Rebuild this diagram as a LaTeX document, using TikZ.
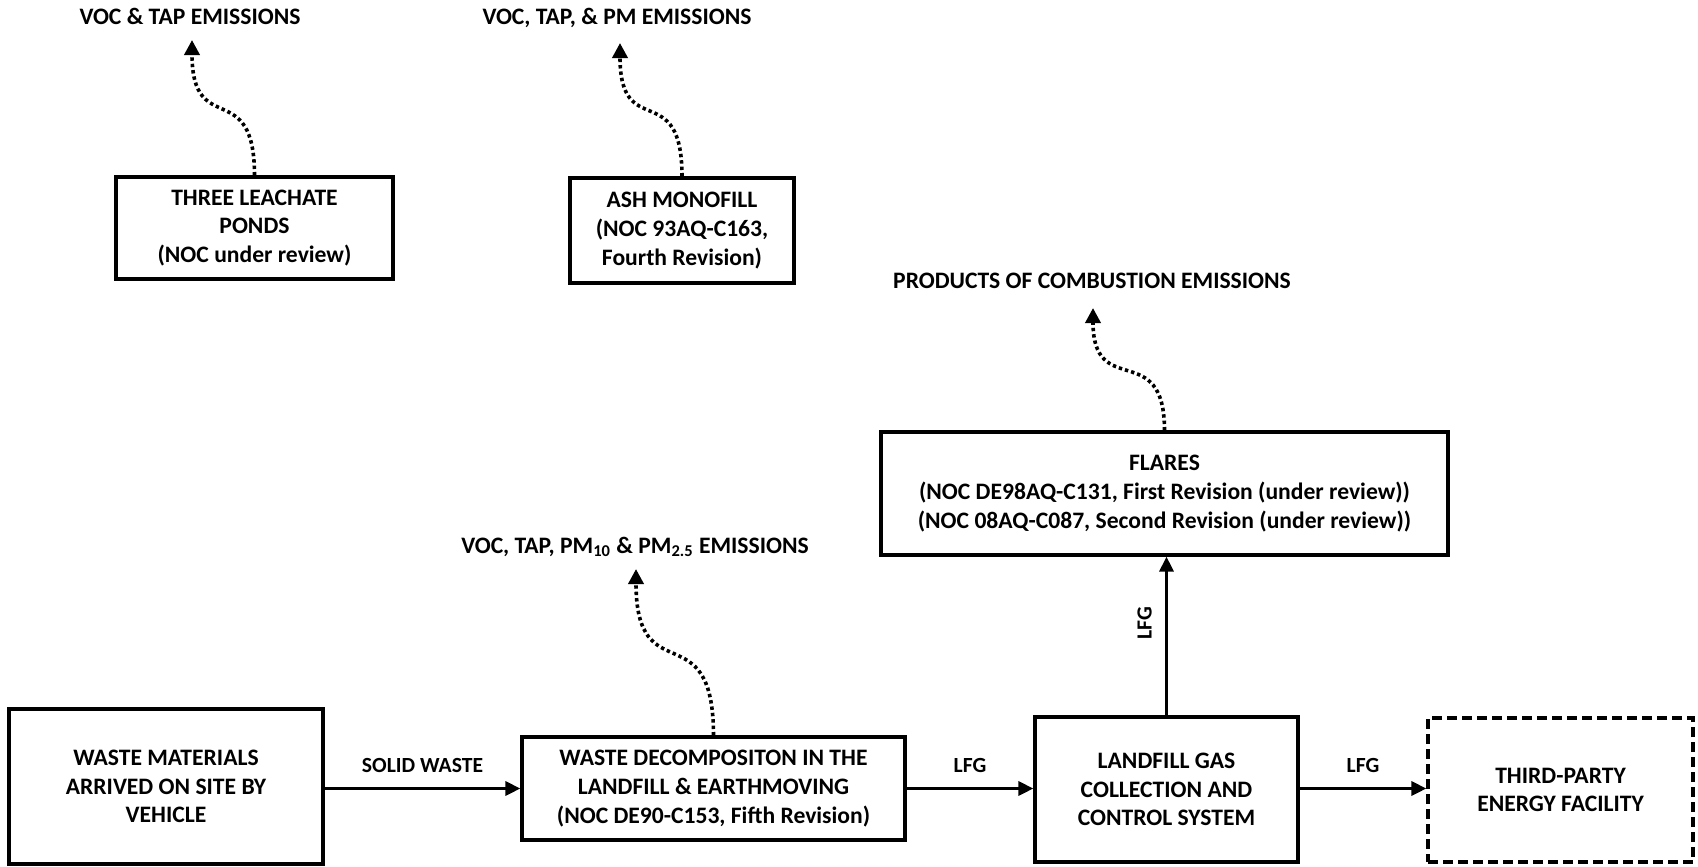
\documentclass[tikz,border=0pt]{standalone}
\usepackage{fontspec}
\setmainfont{Carlito}
\usetikzlibrary{arrows.meta}
\newcommand{\boxfont}{\fontsize{11.8pt}{14.3pt}\selectfont\bfseries}
\newcommand{\lblfont}{\fontsize{10.8pt}{13pt}\selectfont\bfseries}
\begin{document}
\begin{tikzpicture}[x=0.5pt,y=-0.5pt,
  box/.style={draw,line width=1.6pt,align=center,font=\boxfont,inner sep=0pt},
  dbox/.style={box,dash pattern=on 5pt off 2.5pt},
  title/.style={font=\boxfont,inner sep=0pt},
  lbl/.style={font=\lblfont,inner sep=0pt},
  arr/.style={line width=1.6pt,-{Triangle[length=7.5pt,width=7pt]}},
  dotarr/.style={line width=1.8pt,dash pattern=on 1.7pt off 1.5pt,-{Triangle[length=7.5pt,width=7.5pt]}}]
\useasboundingbox (0,0) rectangle (1698,867);

% boxes
\node[box,minimum width=138.5pt,minimum height=51pt] (leach) at (254.5,228) {THREE LEACHATE\\PONDS\\(NOC under review)};
\node[box,minimum width=112pt,minimum height=52.5pt] (ash) at (682,230.5) {ASH MONOFILL\\(NOC 93AQ-C163,\\Fourth Revision)};
\node[box,minimum width=283.5pt,minimum height=61.5pt] (flares) at (1164.5,493.5) {FLARES\\(NOC DE98AQ-C131, First Revision (under review))\\(NOC 08AQ-C087, Second Revision (under review))};
\node[box,minimum width=157pt,minimum height=77.5pt] (waste) at (166,786.5) {WASTE MATERIALS\\ARRIVED ON SITE BY\\VEHICLE};
\node[box,minimum width=191.5pt,minimum height=51.5pt] (decomp) at (713.5,788.5) {WASTE DECOMPOSITON IN THE\\LANDFILL \& EARTHMOVING\\(NOC DE90-C153, Fifth Revision)};
\node[box,minimum width=131.5pt,minimum height=72.5pt] (lfg) at (1166.5,789.5) {LANDFILL GAS\\COLLECTION AND\\CONTROL SYSTEM};
\node[dbox,minimum width=132.5pt,minimum height=72pt] (third) at (1560.5,790) {THIRD-PARTY\\ENERGY FACILITY};

% emission titles
\node[title] (t1) at (190,16) {VOC \& TAP EMISSIONS};
\node[title] (t2) at (617,18) {VOC, TAP, \& PM EMISSIONS};
\node[title] (t3) at (1092,281) {PRODUCTS OF COMBUSTION EMISSIONS};
\node[title] (t4) at (635,547) {VOC, TAP, PM\textsubscript{10} \& PM\textsubscript{2.5} EMISSIONS};

% tips of the emission arrows
\coordinate (e1) at (192,40);
\coordinate (e2) at (620,43);
\coordinate (e3) at (1093,308);
\coordinate (e4) at (636,569);

% dotted emission arrows
\draw[dotarr] (leach.north) .. controls +(0,-100) and +(0,100) .. (e1);
\draw[dotarr] (ash.north) .. controls +(0,-100) and +(0,100) .. (e2);
\draw[dotarr] (flares.north) .. controls +(0,-93) and +(0,93) .. (e3);
\draw[dotarr] (decomp.north) .. controls +(0,-125) and +(0,125) .. (e4);

% process flow
\draw[arr] (waste.east |- decomp.west) -- node[lbl,midway,yshift=11.5pt] {SOLID WASTE} (decomp.west);
\draw[arr] (decomp.east) -- node[lbl,midway,yshift=11.5pt] {LFG} (decomp.east -| lfg.west);
\draw[arr] (decomp.east -| lfg.east) -- node[lbl,midway,yshift=11.5pt] {LFG} (decomp.east -| third.west);
\draw[arr] (lfg.north) -- node[lbl,pos=0.58,xshift=-11pt,rotate=90] {LFG} (lfg.north |- flares.south);
\end{tikzpicture}
\end{document}
